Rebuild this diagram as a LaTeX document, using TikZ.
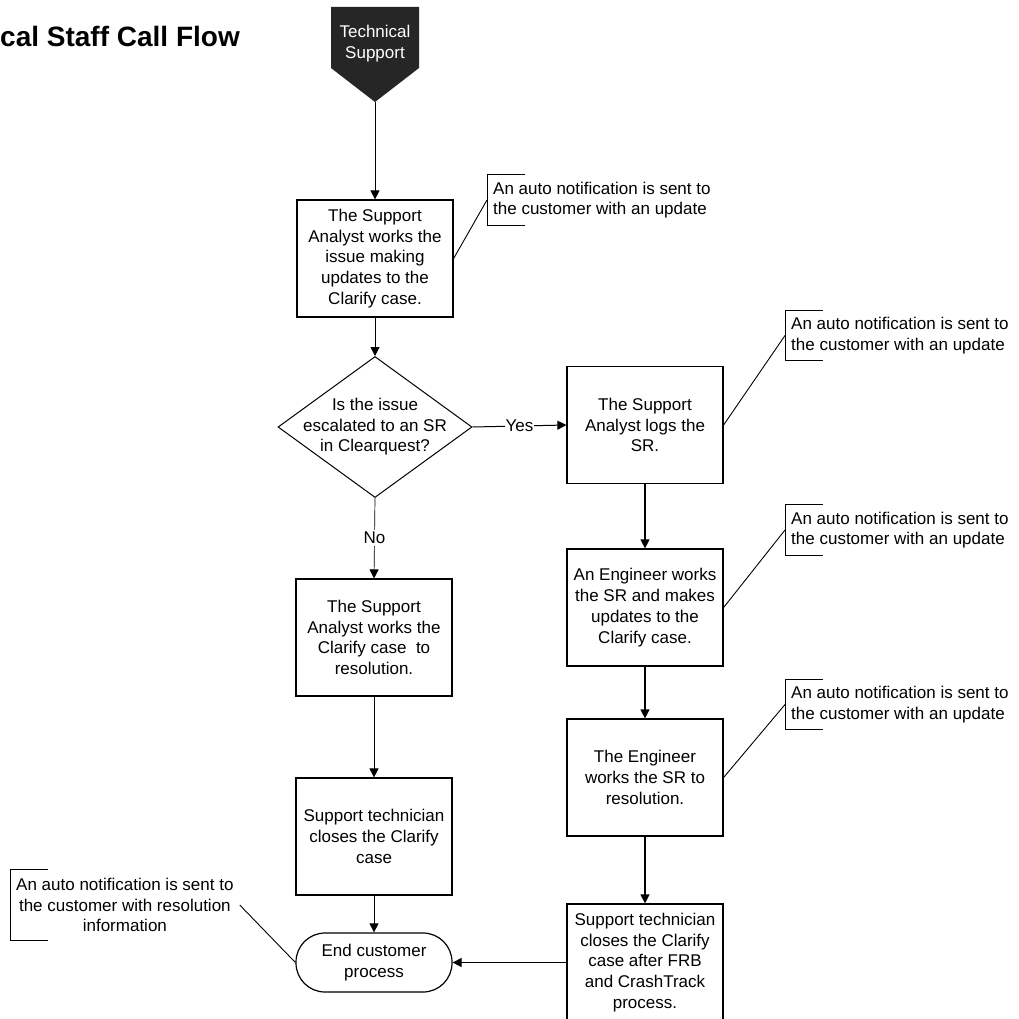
\documentclass[tikz,border=0pt]{standalone}
\usepackage{fontspec}
\setmainfont{Liberation Sans}
\usepackage{tikz}
\usetikzlibrary{shapes.geometric, arrows.meta, positioning, calc}

\begin{document}
\begin{tikzpicture}[
    x=1pt, y=-1pt,
    proc/.style={rectangle, draw, line width=1.2pt, minimum width=156pt, minimum height=117pt,
                 inner sep=0pt, align=center, font=\fontsize{17}{20.8}\selectfont},
    decide/.style={diamond, draw, line width=1pt, minimum width=194pt, minimum height=141pt, inner sep=0pt},
    term/.style={rectangle, rounded corners=29pt, draw, line width=1.2pt, minimum width=156pt,
                 minimum height=59pt, align=center, font=\fontsize{17}{20.4}\selectfont},
    note/.style={anchor=west, align=left, minimum height=50pt, inner xsep=6pt, inner ysep=0pt,
                 font=\fontsize{17}{20.6}\selectfont},
    flow/.style={-{Triangle[length=9pt,width=9pt]}, line width=1pt},
    lead/.style={line width=0.9pt}
]
\useasboundingbox (0,0) rectangle (1018,1019);
\clip (0,0) rectangle (1018,1019);

\node[anchor=base west, inner sep=0pt, font=\fontsize{28}{32}\selectfont\bfseries] (title) at (0,47) {cal Staff Call Flow};

% off-page connector at the top
\fill[black!85] (331,7) -- (419,7) -- (419,68) -- (375,102) -- (331,68) -- cycle;
\coordinate (techtip) at (375,102);
\node[text=white, align=center, font=\fontsize{17}{21}\selectfont] (tech) at (375,44) {Technical\\Support};

% left column
\node[proc] (analyst) at (375,258.5) {The Support\\Analyst works the\\issue making\\updates to the\\Clarify case.};
\node[decide] (esc) at (375,427) {};
\node[align=center, font=\fontsize{17}{20.6}\selectfont] (esctext) at (esc) {Is the issue\\escalated to an SR\\in Clearquest?};
\node[proc] (resolve) at (374,637.5) {The Support\\Analyst works the\\Clarify case~~to\\resolution.};
\node[proc] (closecase) at (374,836.5) {Support technician\\closes the Clarify\\case};
\node[term] (endp) at (374,962.5) {End customer\\process};

% right column
\node[proc] (logsr) at (645,425) {The Support\\Analyst logs the\\SR.};
\node[proc] (engwork) at (645,607.5) {An Engineer works\\the SR and makes\\updates to the\\Clarify case.};
\node[proc] (engres) at (645,777.5) {The Engineer\\works the SR to\\resolution.};
\node[proc] (closefrb) at (645,962.5) {Support technician\\closes the Clarify\\case after FRB\\and CrashTrack\\process.};

% notifications
\node[note] (note1) at (487,200) {An auto notification is sent to\\the customer with an update};
\node[note] (note2) at (785,335.5) {An auto notification is sent to\\the customer with an update};
\node[note] (note3) at (785,530) {An auto notification is sent to\\the customer with an update};
\node[note] (note4) at (785,704.5) {An auto notification is sent to\\the customer with an update};
\node[note, align=center, minimum height=70pt] (note5) at (10,905) {An auto notification is sent to\\the customer with resolution\\information};

\foreach \n in {note1, note2, note3, note4, note5}
    \draw[lead] ([xshift=38pt]\n.north west) -- (\n.north west) -- (\n.south west) -- ++(38,0);

% connectors
\draw[flow] (techtip) -- (analyst);
\draw[flow] (analyst) -- (esc);
\draw[flow] (esc.east) -- node[fill=white, inner sep=1pt, font=\fontsize{17}{20}\selectfont] {Yes} (logsr.west);
\draw[flow, line width=0.7pt] (esc.south) -- node[fill=white, inner sep=2pt, font=\fontsize{17}{20}\selectfont] {No} (resolve.north);
\draw[flow, line width=0.7pt] (resolve) -- (closecase);
\draw[flow, line width=0.7pt] (closecase) -- (endp);
\draw[flow, line width=1.2pt] (logsr) -- (engwork);
\draw[flow, line width=1.2pt] (engwork) -- (engres);
\draw[flow, line width=1.2pt] (engres) -- (closefrb);
\draw[flow] (closefrb.west) -- (endp.east);

\draw[lead] (analyst.east) -- (note1.west);
\draw[lead] (logsr.east) -- (note2.west);
\draw[lead] (engwork.east) -- (note3.west);
\draw[lead] (engres.east) -- (note4.west);
\draw[lead] (endp.west) -- (note5.east);
\end{tikzpicture}
\end{document}
